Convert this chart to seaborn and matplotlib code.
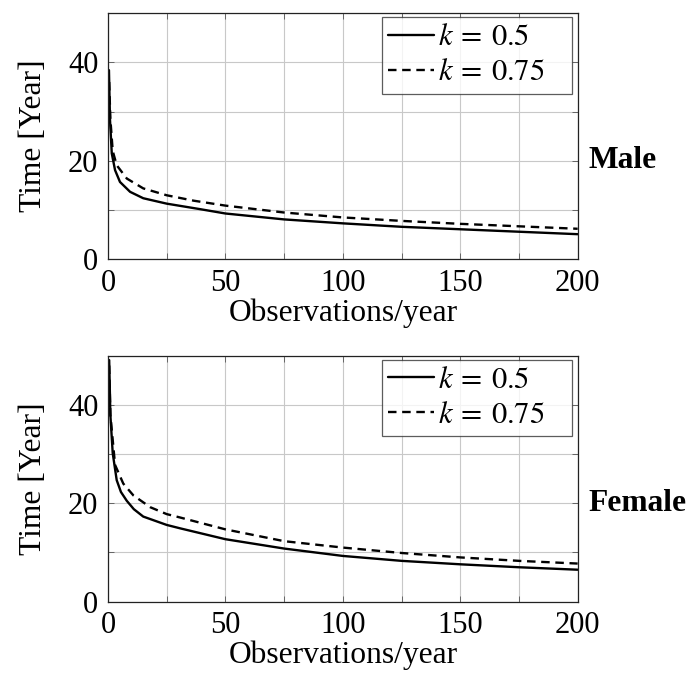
import numpy as np
import pandas as pd
import matplotlib
matplotlib.use("Agg")
import matplotlib.pyplot as plt
from matplotlib.ticker import MultipleLocator
import seaborn as sns

# ---- data ----
male_k05_x = [0.4, 0.85, 1.6, 3, 5.1, 9.4, 15, 25, 39, 50, 75, 100, 125, 150, 175, 200]
male_k05_y = [38.4, 28.3, 21.5, 18.1, 15.7, 13.7, 12.4, 11.3, 10.2, 9.3, 8.1, 7.3, 6.6, 6.1, 5.6, 5.1]
male_k075_x = [0.5, 1, 2, 3.7, 8, 15, 25, 36.5, 50, 75, 100, 125, 150, 175, 200]
male_k075_y = [36.0, 28.5, 22.0, 19.1, 16.4, 14.4, 13.0, 11.9, 10.9, 9.5, 8.5, 7.8, 7.2, 6.7, 6.2]
female_k05_x = [0.5, 1, 2, 3.7, 5.5, 8, 11, 15, 25, 30.8, 50, 75, 100, 125, 150, 175, 200]
female_k05_y = [49.1, 38.0, 30.2, 24.7, 22.3, 20.5, 18.8, 17.3, 15.6, 14.9, 12.7, 10.8, 9.3, 8.3, 7.6, 7.0, 6.5]
female_k075_x = [0.5, 1, 3, 6.5, 10.8, 18, 25, 30.8, 50, 75, 100, 125, 150, 175, 200]
female_k075_y = [48.0, 38.0, 27.8, 24.0, 21.6, 19.2, 17.8, 17.1, 14.7, 12.3, 11.0, 9.9, 9.0, 8.3, 7.75]

series_labels = [r"$k\:=\:0.5$", r"$k\:=\:0.75$"]
panel_labels = ["Male", "Female"]
x_ticks = [0, 50, 100, 150, 200]
y_ticks = [0, 20, 40]

def make_df(xa, ya, xb, yb):
    return pd.concat([
        pd.DataFrame({"x": xa, "y": ya, "k": series_labels[0]}),
        pd.DataFrame({"x": xb, "y": yb, "k": series_labels[1]}),
    ], ignore_index=True)

panels = [
    make_df(male_k05_x, male_k05_y, male_k075_x, male_k075_y),
    make_df(female_k05_x, female_k05_y, female_k075_x, female_k075_y),
]

sns.set_style("ticks")
plt.rcParams["font.family"] = ["Liberation Serif", "DejaVu Serif"]
plt.rcParams["mathtext.fontset"] = "stix"
plt.rcParams["text.color"] = "black"
plt.rcParams["axes.labelcolor"] = "black"
plt.rcParams["xtick.color"] = "black"
plt.rcParams["ytick.color"] = "black"

fig = plt.figure(figsize=(6.88, 6.86), dpi=100)
rects = [
    [0.157, 0.622, 0.6826, 0.359],
    [0.157, 0.1229, 0.6826, 0.3586],
]

for df, rect, plabel in zip(panels, rects, panel_labels):
    ax = fig.add_axes(rect)
    sns.lineplot(data=df, x="x", y="y", hue="k", style="k",
                 palette=["black", "black"],
                 dashes={series_labels[0]: "", series_labels[1]: (3.6, 2.4)},
                 linewidth=1.7, ax=ax, sort=False, estimator=None)
    ax.set_xlim(0, 200)
    ax.set_ylim(0, 50)
    ax.set_xticks(x_ticks)
    ax.set_yticks(y_ticks)
    ax.xaxis.set_minor_locator(MultipleLocator(25))
    ax.yaxis.set_minor_locator(MultipleLocator(10))
    ax.grid(True, which="both", color="#c8c8c8", linewidth=0.8)
    ax.set_axisbelow(True)
    ax.tick_params(which="both", direction="in", top=True, right=True,
                   length=4, width=0.6, color="#555555", labelcolor="black",
                   labelsize=22, pad=7)
    for s in ax.spines.values():
        s.set_linewidth(0.9)
        s.set_color("#222222")
    ax.set_xlabel("Observations/year", fontsize=22.7, labelpad=0)
    ax.set_ylabel("Time [Year]", fontsize=22.7, labelpad=14)
    leg = ax.legend(loc="upper left", bbox_to_anchor=(0.583, 0.0, 0.405, 0.983),
                    mode="expand", fontsize=22, frameon=True, fancybox=False,
                    edgecolor="#333333", handlelength=1.5, handletextpad=0.15,
                    borderpad=0.2, labelspacing=0.2, borderaxespad=0.0)
    leg.get_frame().set_linewidth(0.9)
    leg.set_title(None)
    ax.text(1.023, 0.4, plabel, transform=ax.transAxes, fontsize=22.7,
            fontweight="bold", ha="left", va="center", color="black")

fig.savefig("out.png", dpi=100)
